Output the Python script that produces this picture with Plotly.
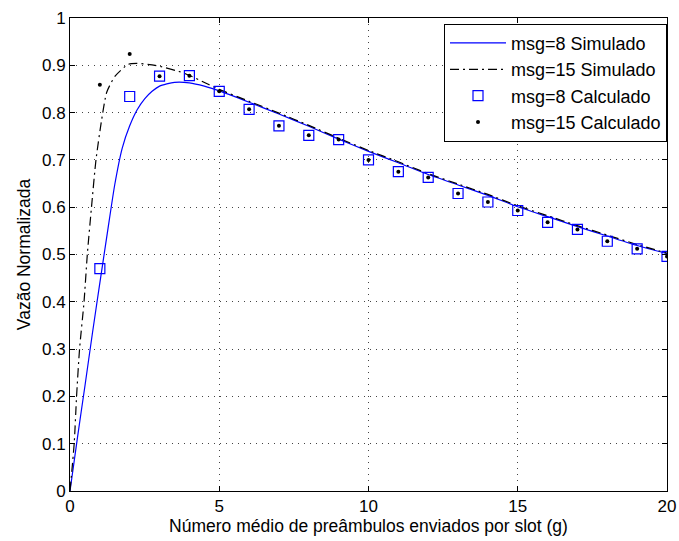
import plotly.graph_objects as go

# msg=8 Simulado (blue solid)
sim8_x = [0, 0.25, 0.5, 0.75, 1.0, 1.25, 1.5, 1.75, 2.0, 2.25, 2.5, 2.75, 3.0, 3.5, 4.0, 4.5,
          5, 6, 7, 8, 9, 10, 11, 12, 13, 14, 15, 16, 17, 18, 19, 20]
sim8_y = [0, 0.113, 0.222, 0.333, 0.44, 0.545, 0.648, 0.725, 0.772, 0.806, 0.829, 0.845, 0.856,
          0.864, 0.863, 0.856, 0.846, 0.822, 0.797, 0.771, 0.744, 0.718, 0.694, 0.669, 0.647,
          0.625, 0.601, 0.580, 0.559, 0.539, 0.519, 0.502]

# msg=15 Simulado (black dash-dot)
sim15_x = [0, 0.14, 0.22, 0.32, 0.47, 0.58, 0.72, 0.87, 1.06, 1.23, 1.51, 1.95, 2.23, 2.85, 3.8,
           4.63, 5, 6, 7, 8, 9, 10, 11, 12, 13, 14, 15, 16, 17, 18, 19, 20]
sim15_y = [0, 0.1, 0.2, 0.3, 0.4, 0.5, 0.6, 0.7, 0.785, 0.843, 0.877, 0.902, 0.904, 0.900, 0.884,
           0.860, 0.849, 0.824, 0.799, 0.773, 0.746, 0.720, 0.696, 0.671, 0.649, 0.627, 0.603,
           0.582, 0.561, 0.541, 0.521, 0.503]

# Calculado points
calc_x = list(range(1, 21))
calc8_y = [0.470, 0.834, 0.877, 0.878, 0.845, 0.807, 0.772, 0.752, 0.743, 0.700,
           0.675, 0.663, 0.629, 0.611, 0.593, 0.568, 0.553, 0.528, 0.512, 0.496]
calc15_y = [0.859, 0.924, 0.877, 0.878, 0.845, 0.807, 0.772, 0.752, 0.743, 0.700,
            0.675, 0.663, 0.629, 0.611, 0.593, 0.568, 0.553, 0.528, 0.512, 0.496]

x_ticks = [0, 5, 10, 15, 20]
y_ticks = [0, 0.1, 0.2, 0.3, 0.4, 0.5, 0.6, 0.7, 0.8, 0.9, 1]
y_tick_text = ["0", "0.1", "0.2", "0.3", "0.4", "0.5", "0.6", "0.7", "0.8", "0.9", "1"]

FONT = "Liberation Sans, Arial, sans-serif"

fig = go.Figure()
fig.add_trace(go.Scatter(x=sim8_x, y=sim8_y, mode="lines", name="msg=8 Simulado",
                         line=dict(color="#0000FF", width=1.2, shape="spline", smoothing=0.6)))
fig.add_trace(go.Scatter(x=sim15_x, y=sim15_y, mode="lines", name="msg=15 Simulado",
                         line=dict(color="#000000", width=1.2, dash="9px,4px,2px,4px",
                                   shape="spline", smoothing=0.6)))
fig.add_trace(go.Scatter(x=calc_x, y=calc8_y, mode="markers", name="msg=8 Calculado",
                         marker=dict(symbol="square-open", size=10, color="#0000FF",
                                     line=dict(width=1.2, color="#0000FF"))))
fig.add_trace(go.Scatter(x=calc_x, y=calc15_y, mode="markers", name="msg=15 Calculado",
                         marker=dict(symbol="circle", size=4, color="#000000")))

axis_common = dict(
    showline=True, linecolor="black", linewidth=1, mirror="ticks",
    ticks="inside", ticklen=5, tickcolor="black", automargin=False,
    showgrid=True, gridcolor="#444444", gridwidth=1, griddash="1px,5px",
    zeroline=False, tickfont=dict(family=FONT, size=17, color="black"),
)

fig.update_layout(
    width=679, height=541,
    margin=dict(l=70, r=12, t=18, b=50),
    paper_bgcolor="white", plot_bgcolor="white",
    font=dict(family=FONT, size=17, color="black"),
    xaxis=dict(range=[0, 20], tickvals=x_ticks,
               title=dict(text="Número médio de preâmbulos enviados por slot (g)",
                          font=dict(family=FONT, size=17.5), standoff=4),
               **axis_common),
    yaxis=dict(range=[0, 1], tickvals=y_ticks, ticktext=y_tick_text,
               title=dict(text="Vazão Normalizada", font=dict(family=FONT, size=17.5), standoff=6),
               **axis_common),
    legend=dict(x=1, xanchor="right", y=0.988, yanchor="top",
                bgcolor="white", bordercolor="black", borderwidth=1,
                font=dict(family=FONT, size=18, color="black"),
                itemwidth=56, tracegroupgap=0),
    showlegend=True,
)

fig.write_html("out.html")
